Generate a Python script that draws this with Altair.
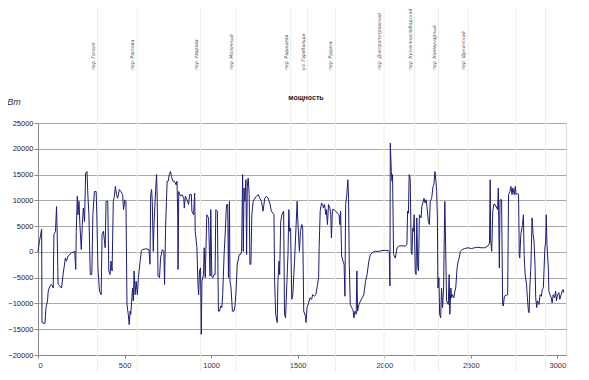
import altair as alt
import pandas as pd

dist = [
    0, 8, 21, 23, 40, 46, 55, 59, 69, 78,
    88, 92, 101, 107, 111, 116, 126, 136, 145, 158,
    164, 174, 193, 212, 218, 221, 227, 231, 237, 242,
    250, 256, 262, 269, 275, 283, 288, 294, 302, 311,
    317, 326, 336, 340, 346, 355, 365, 370, 378, 388,
    393, 403, 409, 416, 422, 428, 435, 441, 447, 454,
    460, 470, 479, 489, 494, 502, 508, 514, 521, 527,
    532, 536, 546, 551, 555, 561, 567, 574, 580, 590,
    597, 603, 622, 641, 647, 651, 656, 660, 666, 670,
    679, 685, 689, 693, 702, 708, 718, 727, 731, 737,
    742, 746, 752, 758, 765, 771, 779, 788, 798, 803,
    807, 809, 813, 823, 832, 842, 845, 851, 861, 870,
    876, 886, 889, 899, 905, 908, 918, 924, 928, 933,
    939, 943, 947, 956, 960, 966, 975, 985, 994, 998,
    1004, 1010, 1017, 1023, 1027, 1036, 1042, 1048, 1056, 1062,
    1067, 1075, 1081, 1087, 1090, 1096, 1100, 1106, 1109, 1115,
    1123, 1132, 1138, 1144, 1151, 1163, 1171, 1176, 1182, 1186,
    1190, 1195, 1201, 1205, 1209, 1214, 1220, 1224, 1230, 1235,
    1243, 1253, 1262, 1272, 1281, 1291, 1300, 1310, 1319, 1329,
    1339, 1348, 1358, 1363, 1367, 1373, 1382, 1386, 1392, 1396,
    1402, 1409, 1419, 1424, 1430, 1438, 1444, 1449, 1453, 1459,
    1466, 1472, 1482, 1491, 1497, 1501, 1510, 1516, 1524, 1529,
    1535, 1545, 1548, 1554, 1563, 1571, 1581, 1586, 1596, 1605,
    1615, 1621, 1624, 1630, 1638, 1644, 1649, 1655, 1663, 1666,
    1672, 1678, 1686, 1691, 1695, 1701, 1710, 1720, 1729, 1739,
    1743, 1748, 1754, 1762, 1768, 1773, 1777, 1783, 1790, 1794,
    1798, 1804, 1812, 1819, 1825, 1831, 1838, 1842, 1846, 1854,
    1863, 1873, 1882, 1892, 1901, 1911, 1920, 1930, 1939, 1949,
    1968, 1987, 2006, 2022, 2029, 2033, 2035, 2041, 2045, 2048,
    2054, 2064, 2074, 2083, 2102, 2121, 2131, 2135, 2140, 2144,
    2150, 2156, 2160, 2165, 2169, 2173, 2179, 2184, 2188, 2194,
    2198, 2203, 2213, 2217, 2223, 2230, 2236, 2242, 2247, 2255,
    2261, 2266, 2274, 2282, 2287, 2293, 2299, 2303, 2307, 2310,
    2316, 2320, 2326, 2331, 2337, 2343, 2347, 2350, 2354, 2360,
    2370, 2375, 2379, 2385, 2389, 2394, 2402, 2408, 2413, 2421,
    2427, 2433, 2440, 2450, 2465, 2484, 2503, 2522, 2541, 2560,
    2580, 2598, 2608, 2612, 2615, 2621, 2627, 2633, 2640, 2650,
    2655, 2659, 2665, 2669, 2678, 2684, 2688, 2694, 2713, 2718,
    2726, 2732, 2738, 2743, 2751, 2757, 2762, 2770, 2776, 2780,
    2783, 2789, 2799, 2804, 2808, 2814, 2822, 2827, 2833, 2837,
    2841, 2846, 2850, 2854, 2860, 2865, 2871, 2875, 2881, 2885,
    2894, 2900, 2907, 2913, 2919, 2923, 2928, 2932, 2936, 2940,
    2948, 2951, 2957, 2965, 2970, 2976, 2984, 2990, 2995, 3001,
    3009, 3014, 3022, 3028, 3033, 3037,
]

power = [
    0, 2000, 4400, -13700, -13900, -10800, -9500, -7600, -6600, -6300,
    -7000, 3400, 4000, 8800, 3400, -6300, -6600, -7000, -4400, -1200,
    -1800, -800, -200, 100, -3400, 4000, 10800, 7200, 9800, 5300,
    450, 5300, 8500, 5900, 15300, 15600, 11100, 7200, -4400, -4400,
    7200, 11700, 11700, 7200, -3100, -7600, -8300, 3400, 4000, 800,
    9800, 9800, -3700, -4400, -1800, -3700, 9800, 10800, 12700, 11100,
    10400, 12100, 11700, 11100, 8200, 10100, 9800, -10200, -12000, -14100,
    -11500, -12100, -7000, -9500, -3700, -8300, -5700, -8300, -5000, -1800,
    100, 450, 600, 450, -2400, 11100, 12100, 9800, 100, 5300,
    11700, 15000, 9800, -4700, -5000, -1200, 450, 100, -6300, 4600,
    9800, 13700, 13700, 15000, 15600, 14600, 13700, 13700, 13000, 13700,
    7200, -3400, 11700, 10800, 11100, 10400, 8500, 10800, 10100, 9200,
    11100, 11100, 7900, 7200, 11400, 4000, 800, -6300, -8300, -3700,
    -3100, -16000, -5700, -4400, 800, -5000, 7200, 6600, -4700, 8200,
    -4700, -5000, -4400, -4400, 8200, 7900, -11500, -11500, -10500, -10800,
    -8300, -500, 3400, 7900, 9200, 9200, -5000, 9800, -5700, -7000,
    -11500, -11500, -10500, -7600, -2400, -500, -500, 100, 15000, 100,
    12400, 9800, 14000, -500, 12700, 14300, 11100, -2400, -2400, 7200,
    9800, 10400, 10800, 11100, 10400, 9800, 7900, 10400, 10800, 10400,
    9500, 7900, 7500, 7200, -5700, -12100, -13700, -5700, -1800, -4400,
    5900, 7200, 7900, -12100, -12800, -5700, -500, 8200, 4000, 4600,
    -9200, -8300, -1800, 5300, 9800, 5900, 100, 4000, 5300, 4600,
    -11500, -12500, -13700, -10800, -9900, -8900, -9200, -8300, -8600, -8300,
    -6300, -5000, 800, 7900, 9500, 9200, 8500, 9200, 7200, 8200,
    5300, 9200, 8500, 7200, 2700, 8200, 8200, 7900, 7500, 7200,
    5300, 7900, -800, -1800, -2400, -8600, 9200, 10800, 14000, 10400,
    -2400, -10200, -10800, -11200, -12800, -11500, -12100, -3700, -11500, -10200,
    -9500, -8900, -8300, -5700, -4400, -1800, -500, -200, 0, 100,
    100, 250, 300, 250, 100, -6600, 21100, 15600, 13700, 15000,
    -500, -1200, 800, 1100, 1200, 1100, 1400, 7900, 7500, 15000,
    14300, 100, -500, 4600, 4000, 7200, -3700, -4400, 6600, -3100,
    -3700, 7200, 6600, 8800, 9500, 10400, 9500, 10100, 8800, 5900,
    5300, 9800, 10400, 12700, 13000, 15600, 13700, 11700, 6600, -7000,
    -5000, -12100, -12800, -7000, -10800, -7000, 3000, 9800, 2700, -9500,
    -10200, -4400, -12100, -7000, -8900, -8300, -8900, -7600, -7000, -3100,
    -1800, -1200, 100, 450, 650, 800, 650, 800, 900, 800,
    800, 1100, 1700, 14000, 2100, 100, 7900, 9200, 9200, 8500,
    8200, 12400, -3100, 10100, 10100, -10200, -10500, -8600, -8300, 11100,
    11700, 12700, 11100, 12400, 11100, 12700, 11100, 11400, 11100, -500,
    -1200, 3400, 5300, 7200, -500, -4400, -6300, -8900, -11500, -11800,
    -7000, -3700, 800, 6600, 3400, 2100, -2400, -8900, -10800, -9500,
    -10200, -8300, -8600, -7300, -7000, -3700, 800, 1700, 7200, 1400,
    -3100, -7600, -8300, -8900, -9900, -8300, -8900, -7600, -9500, -8300,
    -7900, -9200, -8300, -7600, -7300, -7900,
]

street_pos = [344, 573, 939, 1145, 1460, 1558, 1718, 1999, 2176, 2314, 2485, 2760, 2932]
street_names = [
    "пер. Гоголя", "пер. Раскова", "пер. Уварова", "пер. Молочный",
    "пер. Радищева", "ул. Гарибальди", "пер. Рудина", "пер. Днепропетровский",
    "пер. Кузнечнослободской", "пер. Коммунарный", "пер. Щукинский", "", "",
]

x_ticks = [0, 500, 1000, 1500, 2000, 2500, 3000]
y_ticks = [-20000, -15000, -10000, -5000, 0, 5000, 10000, 15000, 20000, 25000]

df = pd.DataFrame({"dist": dist, "power": power})
df["order"] = range(len(df))
streets = pd.DataFrame({"pos": street_pos, "name": street_names})

xs = alt.Scale(domain=[0, 3050], nice=False)
ys = alt.Scale(domain=[-20000, 25000], nice=False)

xaxis = alt.Axis(values=x_ticks, title=None, grid=False, tickSize=3, labelPadding=3,
                 labelFontSize=7.5, labelFont="Liberation Sans", labelColor="#333",
                 domainColor="#888", tickColor="#888", format="d")
yaxis = alt.Axis(values=y_ticks, title=None, grid=True, gridColor="#a8a8a8", tickSize=4,
                 labelPadding=1, labelFontSize=7.5, labelFont="Liberation Sans",
                 labelColor="#222", domainColor="#888", tickColor="#888", format="d")

vlines = alt.Chart(streets).mark_rule(color="#efeddf", strokeWidth=1, clip=False).encode(
    x=alt.X("pos:Q", scale=xs, axis=xaxis),
    y=alt.value(-123),
    y2=alt.value(257),
)

labels = alt.Chart(streets).mark_text(
    angle=270, align="left", baseline="middle",
    font="Liberation Sans Narrow, DejaVu Sans Condensed, Liberation Sans",
    fontStyle="italic", fontSize=5, color="#555", clip=False, dy=-5,
).encode(
    x=alt.X("pos:Q", scale=xs),
    y=alt.value(-53),
    text="name:N",
)

line = alt.Chart(df).mark_line(color="#1c1c78", strokeWidth=1).encode(
    x=alt.X("dist:Q", scale=xs, axis=xaxis),
    y=alt.Y("power:Q", scale=ys, axis=yaxis),
    order="order:Q",
)

title_df = pd.DataFrame({"t": ["мощность"]})
title = alt.Chart(title_df).mark_text(
    font="Liberation Sans", fontSize=7, fontWeight="bold", color="#222", clip=False
).encode(x=alt.value(268), y=alt.value(-25), text="t:N")

unit_df = pd.DataFrame({"t": ["Вт"]})
unit = alt.Chart(unit_df).mark_text(
    font="Liberation Sans", fontSize=9, fontStyle="italic", color="#333", clip=False
).encode(x=alt.value(-24), y=alt.value(-21), text="t:N")

chart = alt.layer(vlines, line, labels, title, unit).properties(
    width=528, height=232,
    autosize=alt.AutoSizeParams(type="none"),
    padding={"left": 30, "top": 115, "right": 15, "bottom": 17},
).configure_view(stroke="#8c8c8c", strokeWidth=1).configure(background="white")

chart.save("out.html", embed_options={"renderer": "svg", "actions": False})
